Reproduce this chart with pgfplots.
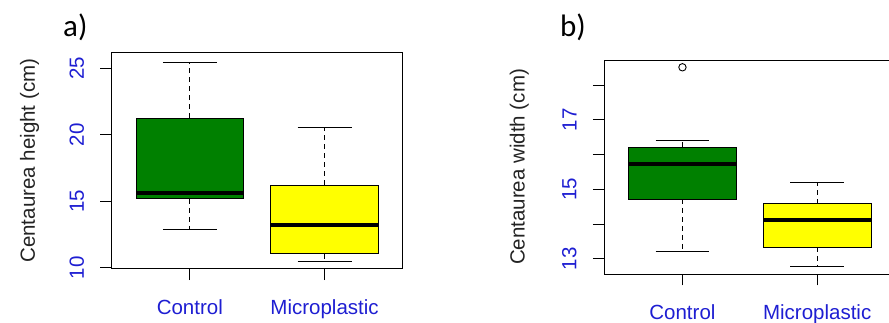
\documentclass[border=0pt]{standalone}
\usepackage{pgfplots}
\pgfplotsset{compat=1.18}
\usepackage{fontspec}
\setmainfont{Liberation Sans}
\newfontfamily\calibri{Carlito}
\definecolor{rblue}{RGB}{30,30,210}
\definecolor{rgreen}{RGB}{0,128,0}
\definecolor{ryellow}{RGB}{255,255,0}
\definecolor{labgray}{RGB}{35,35,35}

\pgfplotsset{
  panel/.style={
    scale only axis, width=291pt,
    xmin=0.42, xmax=2.58,
    xtick={1,2}, xticklabels={Control,Microplastic},
    tick pos=left, tick align=outside, major tick length=11.5pt,
    tick style={black, line width=0.9pt},
    axis line style={line width=0.9pt},
    ticklabel style={font=\fontsize{20.5}{24}\selectfont, text=rblue},
    xticklabel style={anchor=north, inner sep=0pt, yshift=-19pt},
    yticklabel style={rotate=90, anchor=south, inner sep=16pt},
    label style={font=\fontsize{20.5}{24}\selectfont, text=labgray},
  },
  wline/.style={black, line width=0.9pt, no marks},
}
% #1 position, #2 fill, #3 lower whisker, #4 lower quartile, #5 median, #6 upper quartile, #7 upper whisker
\newcommand\rbox[7]{%
  \pgfmathsetmacro\bl{#1-0.4}\pgfmathsetmacro\br{#1+0.4}%
  \pgfmathsetmacro\cl{#1-0.2}\pgfmathsetmacro\cr{#1+0.2}%
  \addplot[wline, dash pattern=on 5pt off 4pt] coordinates {(#1,#4) (#1,#3)};
  \addplot[wline, dash pattern=on 5pt off 4pt] coordinates {(#1,#6) (#1,#7)};
  \addplot[wline] coordinates {(\cl,#3) (\cr,#3)};
  \addplot[wline] coordinates {(\cl,#7) (\cr,#7)};
  \addplot[wline, fill=#2] coordinates {(\bl,#4) (\br,#4) (\br,#6) (\bl,#6)} --cycle;
  \addplot[black, line width=4pt, no marks] coordinates {(\bl,#5) (\br,#5)};
}

\begin{document}
\begin{tikzpicture}
\useasboundingbox (0,0) rectangle (889pt,323pt);
\clip (0,0) rectangle (889pt,323pt);

% ---- panel a ----
\begin{axis}[panel,
  at={(111.7pt,54.3pt)}, anchor=south west, height=216pt,
  ymin=9.92, ymax=26.17,
  ytick={10,15,20,25}, yticklabels={10,15,20,25},
  ylabel={Centaurea height (cm)},
  ylabel style={at={(rel axis cs:-0.282,0.5)}, anchor=center},
]
\rbox{1}{rgreen}{12.86}{15.17}{15.64}{21.24}{25.47}
\rbox{2}{ryellow}{10.48}{11.03}{13.19}{16.22}{20.58}
\end{axis}

% ---- panel b ----
\begin{axis}[panel,
  at={(604.3pt,49pt)}, anchor=south west, height=214pt,
  ymin=12.56, ymax=18.72,
  ytick={13,14,15,16,17,18}, yticklabels={13,,15,,17,},
  ylabel={Centaurea width (cm)},
  ylabel style={at={(rel axis cs:-0.292,0.5)}, anchor=center},
]
\rbox{1}{rgreen}{13.20}{14.72}{15.73}{16.21}{16.39}
\rbox{2}{ryellow}{12.78}{13.33}{14.11}{14.58}{15.19}
\addplot[only marks, mark=o, mark size=3.7pt, black, line width=0.9pt]
  coordinates {(1,18.51)};
\end{axis}

\node[anchor=base west, inner sep=0pt, font=\calibri\fontsize{31}{36}\selectfont] at (63pt,286.3pt) {a)};
\node[anchor=base west, inner sep=0pt, font=\calibri\fontsize{31}{36}\selectfont] at (560pt,286.3pt) {b)};
\end{tikzpicture}
\end{document}
